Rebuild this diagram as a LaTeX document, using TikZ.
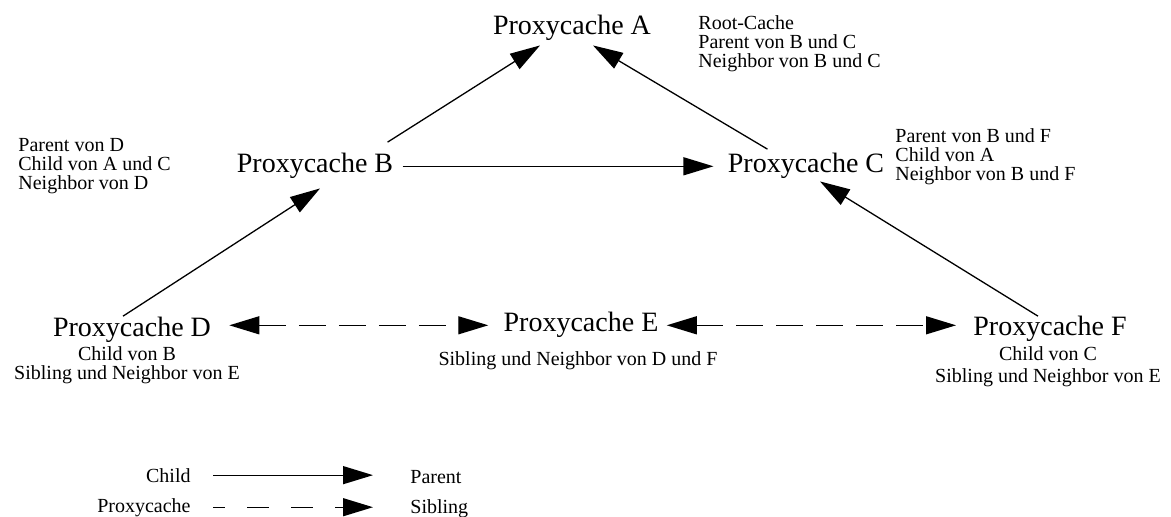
\documentclass[tikz,border=0pt]{standalone}
\usepackage{fontspec}
\setmainfont{Liberation Serif}
\usepackage{tikz}
\usetikzlibrary{arrows.meta}
\tikzset{
  cache/.style={font=\fontsize{14}{16}\selectfont, inner sep=0pt, anchor=base},
  info/.style={font=\fontsize{10}{9.5}\selectfont, inner sep=0pt},
  childarrow/.style={line width=0.65pt, -{Triangle[length=15pt,width=9pt]}},
  siblingarrow/.style={line width=0.65pt, dash pattern=on 13.5pt off 6.5pt,
    {Triangle[length=15pt,width=9pt]}-{Triangle[length=15pt,width=9pt]}}
}

\begin{document}
\begin{tikzpicture}[x=0.5pt,y=-0.5pt]
  \useasboundingbox (0,0) rectangle (1171,517);

  % Top: root cache
  \node[cache] (A) at (572,35) {Proxycache A};
  \node[info, anchor=north west, align=left] (Anote) at (698,15) {Root-Cache\\Parent von B und C\\Neighbor von B und C};

  % Middle: B and C
  \node[cache] (B) at (315,173) {Proxycache B};
  \node[info, anchor=north west, align=left] (Bnote) at (18,138) {Parent von D\\Child von A und C\\Neighbor von D};
  \node[cache] (C) at (806,173) {Proxycache C};
  \node[info, anchor=north west, align=left] (Cnote) at (895,128) {Parent von B und F\\Child von A\\Neighbor von B und F};

  % Bottom: D, E, F
  \node[cache] (D) at (132,337) {Proxycache D};
  \node[info, anchor=north, align=center] (Dnote) at (127,346) {Child von B\\Sibling und Neighbor von E};
  \node[cache] (E) at (581,332) {Proxycache E};
  \node[info, anchor=base] (Enote) at (578,366) {Sibling und Neighbor von D und F};
  \node[cache] (F) at (1050,336) {Proxycache F};
  \node[info, anchor=north, align=center] (Fnote) at (1048,346) {Child von C\\[1.5pt]Sibling und Neighbor von E};

  % Child -> Parent
  \draw[childarrow] ([shift={(-6,-11)}]B.north east) -- ([shift={(-32,4)}]A.south);
  \draw[childarrow] ([shift={(40,-4)}]C.north west) -- ([shift={(21,4)}]A.south);
  \draw[childarrow, shorten <=4.5pt, shorten >=7pt] (B) -- (C);
  \draw[childarrow] ([shift={(-9,-1)}]D.north) -- ([shift={(5,9)}]B.south);
  \draw[childarrow] ([shift={(-12,0)}]F.north) -- ([shift={(14,2)}]C.south);

  % Siblings
  \draw[siblingarrow, shorten <=9pt, shorten >=7.5pt] (D.east |- E.west) -- (E.west);
  \draw[siblingarrow, shorten <=4pt, shorten >=8.5pt] (E.east) -- (E.east -| F.west);

  % Legend
  \node[info, anchor=base east] (lchild) at (191,482) {Child};
  \node[info, anchor=base west] (lparent) at (410,483) {Parent};
  \node[info, anchor=base east] (lproxy) at (191,512) {Proxycache};
  \node[info, anchor=base west] (lsibling) at (410,513) {Sibling};
  \draw[childarrow, shorten <=11pt, shorten >=18.5pt] (lchild.east) -- (lchild.east -| lparent.west);
  \draw[childarrow, dash pattern=on 11pt off 11pt, dash phase=5pt, shorten <=11pt, shorten >=18.5pt] (lproxy.east) -- (lproxy.east -| lsibling.west);
\end{tikzpicture}
\end{document}
